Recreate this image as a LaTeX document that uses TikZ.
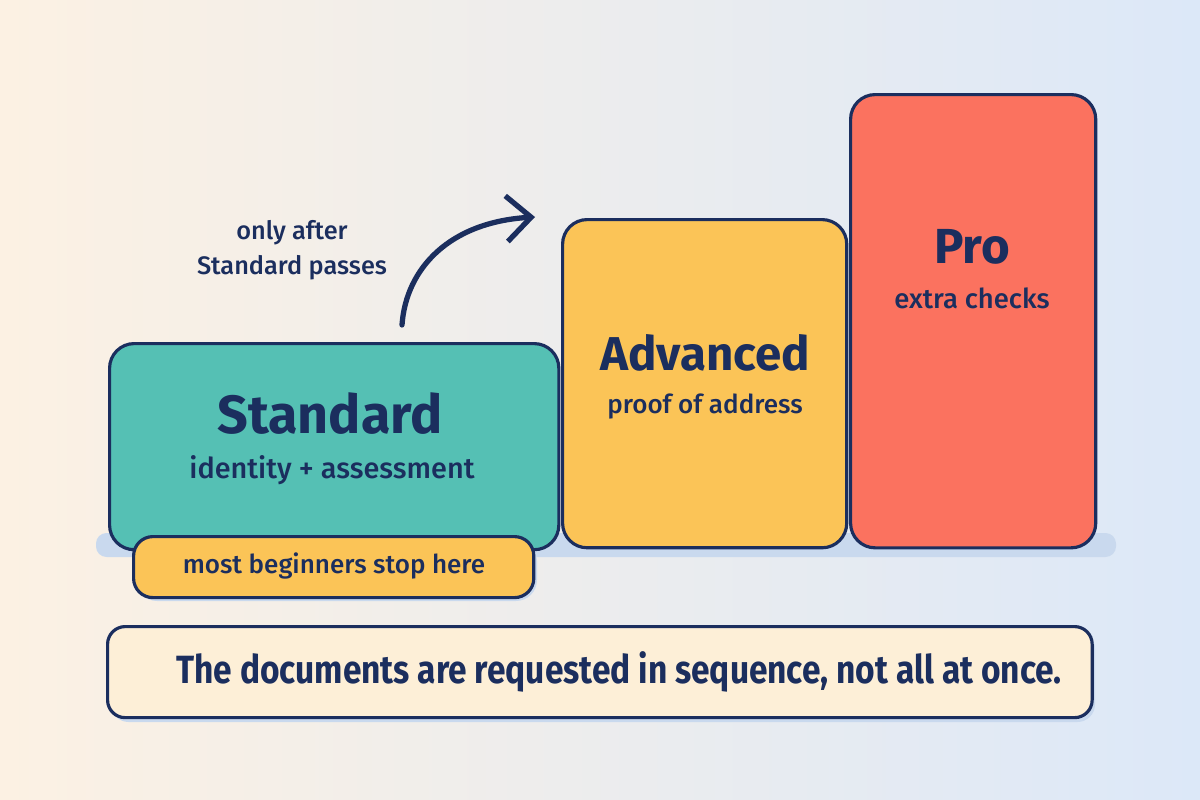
\documentclass[tikz,border=0pt]{standalone}
\usepackage{fontspec}
\setmainfont{Fira Sans}
\newfontfamily\mediumfont{Fira Sans Medium}
\usetikzlibrary{arrows.meta}
\definecolor{ink}{HTML}{1B2E5E}
\definecolor{tealbox}{HTML}{55C0B4}
\definecolor{sun}{HTML}{FBC457}
\definecolor{coral}{HTML}{FB725F}
\definecolor{cream}{HTML}{FDEFD7}
\definecolor{haze}{HTML}{C9D9EE}
\definecolor{bgleft}{HTML}{FCF1E3}
\definecolor{bgmid}{HTML}{F5F3F0}
\definecolor{bgright}{HTML}{DCE8F8}
\begin{document}
\begin{tikzpicture}[x=0.01cm,y=-0.01cm,line join=round,line cap=round]
\tikzset{every node/.style={text=ink},
  box/.style={draw=ink,line width=0.9pt,rounded corners=7pt,anchor=north west,inner sep=0pt},
  ttl/.style={anchor=base,font=\fontsize{14}{16}\selectfont\bfseries},
  sub/.style={anchor=base,font=\mediumfont\fontsize{7.4}{9}\selectfont}}
\shade[left color=bgleft,middle color=bgmid,right color=bgright] (0,0) rectangle (1200,800);
\useasboundingbox (0,0) rectangle (1200,800);
% shadows
\fill[haze,rounded corners=3pt] (96,533) rectangle (1116,557);
\fill[haze,rounded corners=6pt] (136,540) rectangle (537,601);
\fill[haze,rounded corners=5pt] (111,631) rectangle (1095,722);
% the three levels
\node[box,fill=tealbox,minimum width=4.49cm,minimum height=2.06cm] (std) at (108,342) {};
\node[box,fill=sun,minimum width=2.84cm,minimum height=3.28cm] (adv) at (561,218) {};
\node[box,fill=coral,minimum width=2.45cm,minimum height=4.53cm] (pro) at (849,93) {};
\node[box,fill=sun,rounded corners=5.5pt,minimum width=4cm,minimum height=0.61cm] (note) at (132,535) {};
\node[ttl,font=\fontsize{15.3}{17}\selectfont\bfseries] (stdt) at (330,433) {Standard};
\node[sub,font=\mediumfont\fontsize{8.2}{10}\selectfont] (stds) at (332,478) {identity + assessment};
\node[ttl,font=\fontsize{13.5}{16}\selectfont\bfseries] (advt) at (705,370) {Advanced};
\node[sub] (advs) at (705,413) {proof of address};
\node[ttl] (prot) at (972,263) {Pro};
\node[sub,font=\mediumfont\fontsize{7.8}{9}\selectfont] (pros) at (972,308) {extra checks};
\node[sub] (notet) at (334,573) {most beginners stop here};
% arrow to the next level
\node[align=center,font=\mediumfont\fontsize{7.2}{10}\selectfont] (gate) at (292,250) {only after\\Standard passes};
\coordinate (arrS) at (402,325);
\coordinate (arrE) at (535,217);
\draw[ink,line width=1.5pt,-{Straight Barb[length=7pt,width=13pt]}] (arrS) .. controls (406,268) and (450,222) .. (arrE);
% bottom message
\node[box,fill=cream,rounded corners=5pt,minimum width=9.84cm,minimum height=0.91cm] (msg) at (106,625) {};
\node[anchor=base,font=\fontsize{11.2}{13}\selectfont\bfseries] (msgt) at (619,683) {\scalebox{0.85}[1]{The documents are requested in sequence, not all at once.}};
\end{tikzpicture}
\end{document}
